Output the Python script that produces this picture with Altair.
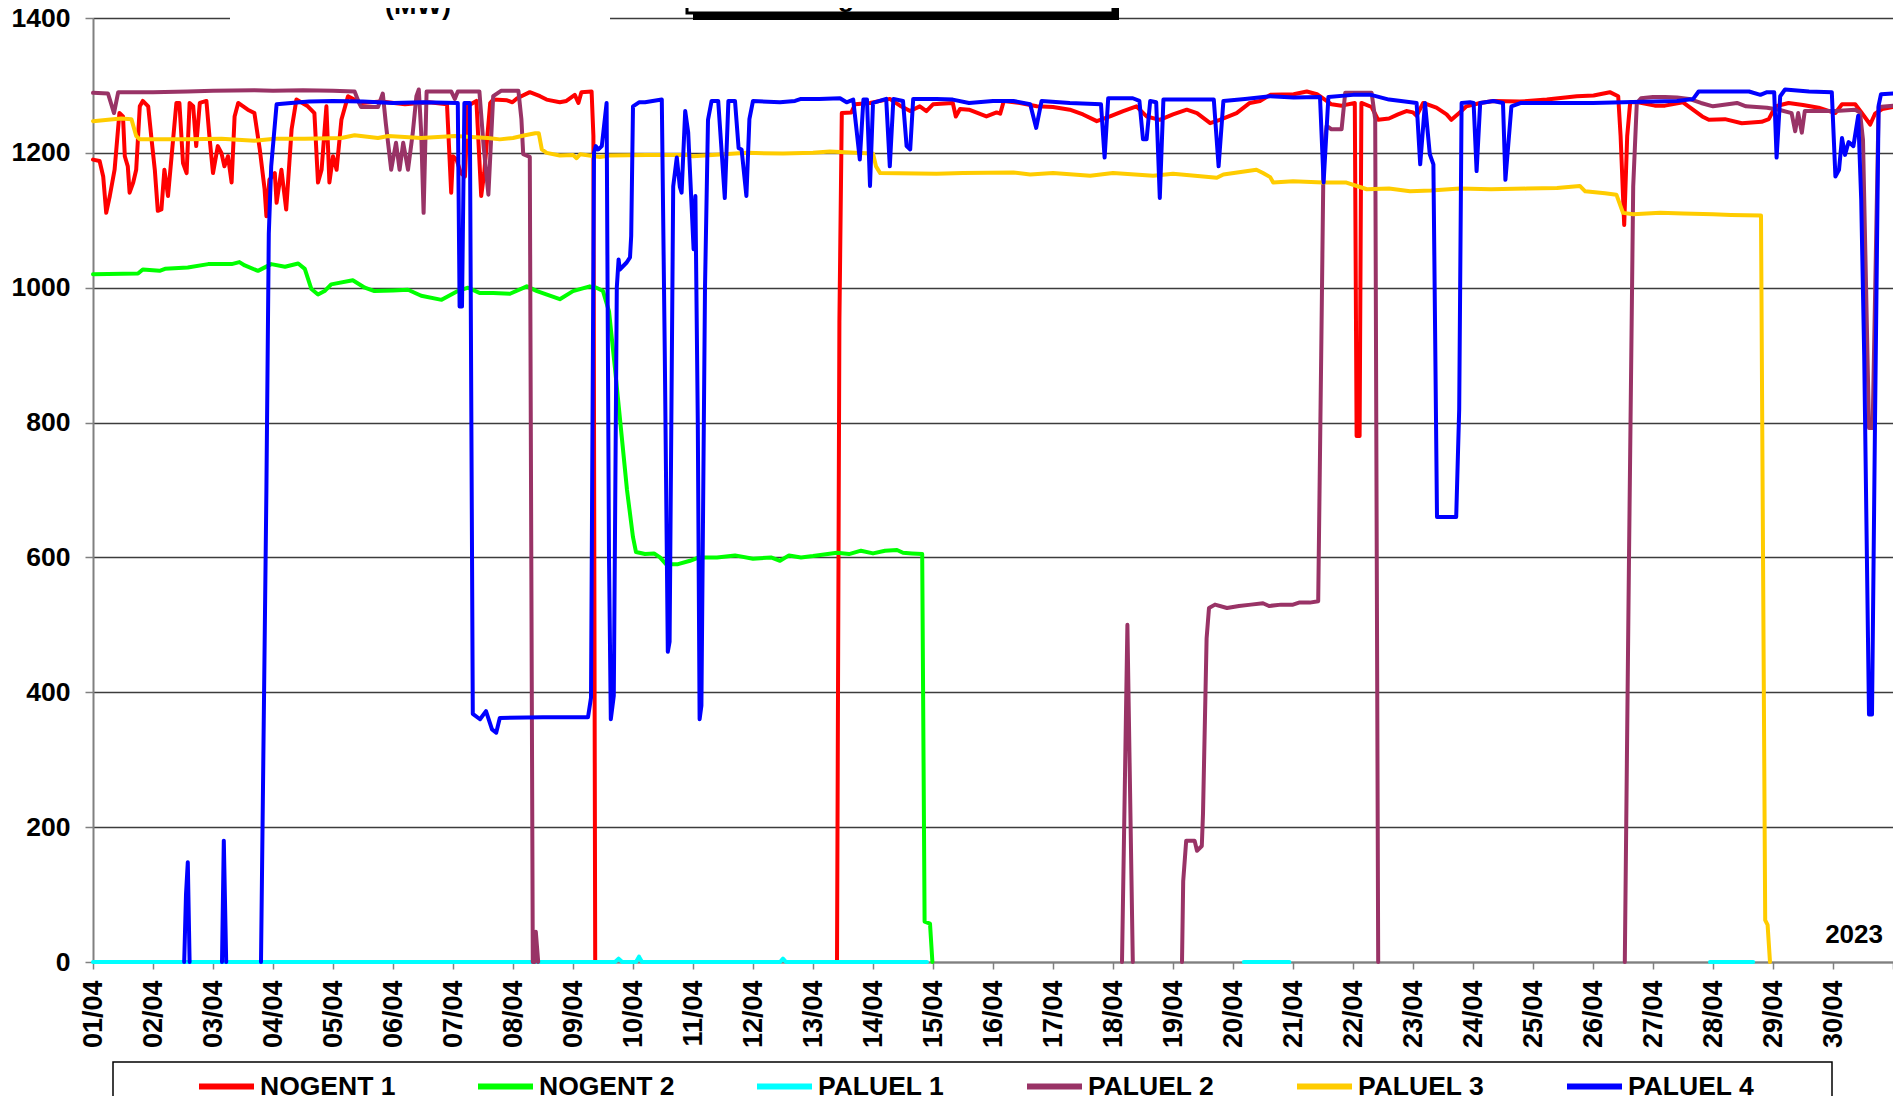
import json
import altair as alt
import pandas as pd

# ---------------- data ----------------
SERIES = ["NOGENT 1", "NOGENT 2", "PALUEL 1", "PALUEL 2", "PALUEL 3", "PALUEL 4"]
COLORS = ["#FF0000", "#00FF00", "#00FFFF", "#993366", "#FFCC00", "#0000FF"]
DAY_LABELS = ["%02d/04" % d for d in range(1, 31)]
Y_TICKS = [0, 200, 400, 600, 800, 1000, 1200, 1400]
YEAR = "2023"
TITLE = "Nogent - Paluel"
UNIT = "(MW)"

# each series: list of segments, each segment: (day offset from 01/04 00:00, MW)
NOGENT_1 = [
    [(0, 1190), (0.11, 1188), (0.17, 1165), (0.22, 1111), (0.28, 1136), (0.36, 1175), (0.44, 1259),
     (0.5, 1254), (0.53, 1195), (0.58, 1180), (0.61, 1141), (0.67, 1156), (0.72, 1175), (0.78, 1269),
     (0.83, 1277), (0.92, 1269), (0.97, 1225), (1.03, 1175), (1.08, 1114), (1.14, 1116), (1.19, 1175),
     (1.25, 1136), (1.31, 1195), (1.39, 1274), (1.44, 1274), (1.5, 1185), (1.56, 1170), (1.61, 1274),
     (1.67, 1269), (1.72, 1210), (1.78, 1274), (1.89, 1277), (1.94, 1225), (2.0, 1170), (2.08, 1210),
     (2.14, 1200), (2.19, 1180), (2.25, 1195), (2.31, 1156), (2.36, 1254), (2.42, 1274), (2.58, 1264),
     (2.69, 1259), (2.78, 1205), (2.86, 1146), (2.89, 1106), (2.94, 1160), (3.03, 1170), (3.06, 1126),
     (3.14, 1175), (3.22, 1116), (3.31, 1235), (3.39, 1279), (3.58, 1269), (3.69, 1259), (3.75, 1156),
     (3.81, 1175), (3.89, 1269), (3.94, 1156), (4.0, 1195), (4.06, 1175), (4.14, 1249), (4.25, 1284),
     (4.47, 1274), (4.8, 1276), (5.2, 1272), (5.6, 1275), (5.9, 1272), (5.97, 1141), (6.0, 1195),
     (6.06, 1190), (6.13, 1170), (6.2, 1165), (6.25, 1270), (6.39, 1277), (6.47, 1136), (6.52, 1170),
     (6.62, 1274), (6.67, 1279), (6.9, 1278), (6.99, 1275), (7.07, 1281), (7.28, 1290), (7.45, 1284),
     (7.56, 1279), (7.78, 1275), (7.89, 1277), (8.03, 1286), (8.09, 1274), (8.14, 1290), (8.31, 1291),
     (8.34, 1225), (8.37, 0)],
    [(12.40, 0), (12.44, 950), (12.48, 1259), (12.64, 1260), (12.7, 1272), (12.95, 1274), (13.28, 1280),
     (13.45, 1270), (13.62, 1262), (13.78, 1269), (13.89, 1262), (14.0, 1272), (14.33, 1274), (14.38, 1254),
     (14.45, 1265), (14.6, 1264), (14.89, 1254), (15.06, 1260), (15.12, 1258), (15.18, 1277), (15.45, 1274),
     (15.73, 1269), (16.0, 1268), (16.28, 1264), (16.5, 1257), (16.73, 1247), (16.95, 1254), (17.17, 1262),
     (17.39, 1269), (17.56, 1254), (17.78, 1249), (18.0, 1257), (18.23, 1264), (18.4, 1259), (18.62, 1244),
     (18.78, 1249), (19.06, 1259), (19.28, 1274), (19.45, 1277), (19.62, 1286), (20.01, 1287), (20.23, 1291),
     (20.4, 1287), (20.56, 1277), (20.64, 1272), (20.81, 1270), (21.03, 1274), (21.06, 780), (21.11, 780),
     (21.14, 1274), (21.31, 1268), (21.42, 1249), (21.6, 1251), (21.75, 1257), (21.89, 1262), (22.0, 1260),
     (22.06, 1255), (22.17, 1274), (22.39, 1267), (22.56, 1257), (22.64, 1249), (22.78, 1260), (22.89, 1269),
     (23.12, 1274), (23.34, 1277), (23.78, 1276), (24.23, 1279), (24.73, 1284), (25.01, 1285), (25.28, 1290),
     (25.42, 1284), (25.46, 1225), (25.52, 1093), (25.57, 1225), (25.62, 1275), (25.75, 1275), (26.03, 1270),
     (26.2, 1270), (26.5, 1275), (26.82, 1254), (26.93, 1249), (27.2, 1250), (27.48, 1244), (27.81, 1246),
     (27.93, 1250), (28.04, 1269), (28.26, 1274), (28.5, 1271), (28.76, 1267), (29.04, 1259), (29.15, 1272),
     (29.37, 1272), (29.48, 1259), (29.62, 1242), (29.7, 1258), (29.82, 1265), (30.0, 1268)],
]

NOGENT_2 = [
    [(0, 1020), (0.75, 1021), (0.83, 1027), (1.11, 1025), (1.2, 1028), (1.58, 1030), (1.92, 1035),
     (2.31, 1035), (2.44, 1038), (2.53, 1033), (2.75, 1025), (2.97, 1035), (3.2, 1031), (3.42, 1036),
     (3.53, 1028), (3.64, 998), (3.75, 990), (3.86, 995), (3.97, 1005), (4.33, 1011), (4.53, 1000),
     (4.69, 995), (5.0, 996), (5.25, 997), (5.47, 988), (5.81, 982), (6.08, 995), (6.25, 1000),
     (6.45, 992), (6.67, 992), (6.95, 991), (7.23, 1002), (7.4, 995), (7.78, 983), (8.0, 995),
     (8.28, 1002), (8.39, 1000), (8.5, 995), (8.6, 965), (8.7, 880), (8.8, 790), (8.9, 700),
     (9.0, 630), (9.05, 608), (9.2, 605), (9.35, 606), (9.45, 600), (9.55, 590), (9.75, 590),
     (9.95, 595), (10.1, 600), (10.4, 600), (10.7, 603), (11.0, 598), (11.3, 600), (11.45, 595),
     (11.6, 603), (11.8, 600), (12.0, 602), (12.4, 607), (12.6, 605), (12.8, 610), (13.0, 606),
     (13.2, 610), (13.4, 611), (13.5, 607), (13.65, 606), (13.82, 605), (13.86, 60), (13.95, 57),
     (13.99, 0)],
]

PALUEL_1 = [
    [(0, 0), (4.5, 0), (8.7, 0), (8.76, 5), (8.82, 0), (9.05, 0), (9.1, 8), (9.15, 0), (11.45, 0),
     (11.5, 5), (11.55, 0), (13.9, 0)],
    [(19.18, 0), (19.94, 0)],
    [(26.95, 0), (27.67, 0)],
]

PALUEL_2 = [
    [(0, 1289), (0.25, 1288), (0.35, 1259), (0.42, 1290), (1.0, 1290), (1.58, 1291), (2.0, 1292),
     (2.69, 1293), (3.0, 1292), (3.5, 1293), (4.0, 1292), (4.36, 1291), (4.43, 1275), (4.47, 1268),
     (4.75, 1268), (4.83, 1288), (4.88, 1244), (4.97, 1175), (5.05, 1215), (5.11, 1175), (5.17, 1215),
     (5.25, 1175), (5.33, 1230), (5.39, 1284), (5.43, 1294), (5.47, 1230), (5.51, 1111), (5.56, 1291),
     (5.97, 1291), (6.03, 1280), (6.08, 1291), (6.44, 1291), (6.51, 1210), (6.59, 1138), (6.67, 1284),
     (6.8, 1292), (7.09, 1292), (7.14, 1250), (7.17, 1198), (7.28, 1194), (7.33, 0), (7.36, 0),
     (7.38, 45), (7.42, 0)],
    [(17.15, 0), (17.24, 500), (17.33, 0)],
    [(18.15, 0), (18.17, 120), (18.22, 180), (18.36, 180), (18.4, 165), (18.48, 172), (18.5, 220),
     (18.56, 480), (18.6, 525), (18.7, 530), (18.9, 525), (19.1, 528), (19.3, 530), (19.5, 532),
     (19.6, 528), (19.8, 530), (20.0, 530), (20.1, 533), (20.28, 533), (20.42, 535), (20.47, 900),
     (20.51, 1200), (20.56, 1240), (20.64, 1235), (20.81, 1235), (20.87, 1289), (21.31, 1289),
     (21.37, 1250), (21.42, 0)],
    [(25.53, 0), (25.6, 600), (25.67, 1150), (25.73, 1274), (25.8, 1281), (26.0, 1283), (26.2, 1283),
     (26.4, 1282), (26.6, 1280), (26.8, 1274), (27.0, 1269), (27.4, 1274), (27.55, 1269), (27.9, 1267),
     (28.1, 1264), (28.31, 1259), (28.37, 1232), (28.42, 1259), (28.48, 1230), (28.53, 1262),
     (29.04, 1262), (29.37, 1264), (29.45, 1260), (29.5, 1219), (29.6, 792), (29.66, 792),
     (29.76, 1268), (30.0, 1270)],
]

PALUEL_3 = [
    [(0, 1247), (0.25, 1249), (0.47, 1251), (0.64, 1250), (0.72, 1225), (0.78, 1220), (1.58, 1220),
     (2.14, 1221), (2.69, 1218), (3.03, 1221), (3.53, 1221), (4.14, 1222), (4.36, 1226), (4.75, 1222),
     (4.92, 1225), (5.47, 1222), (6.03, 1225), (6.58, 1222), (6.78, 1220), (7.0, 1222), (7.2, 1226),
     (7.37, 1229), (7.43, 1229), (7.48, 1205), (7.56, 1200), (7.78, 1196), (8.0, 1197), (8.06, 1192),
     (8.12, 1198), (8.45, 1194), (8.6, 1196), (9.23, 1197), (9.9, 1197), (10.0, 1195), (10.9, 1200),
     (11.5, 1199), (12.0, 1200), (12.28, 1202), (12.7, 1200), (13.0, 1199), (13.05, 1180),
     (13.12, 1170), (14.06, 1169), (14.5, 1170), (15.34, 1171), (15.62, 1168), (16.0, 1170),
     (16.62, 1166), (17.0, 1170), (17.67, 1166), (18.0, 1169), (18.73, 1163), (18.84, 1168),
     (19.39, 1175), (19.5, 1170), (19.62, 1164), (19.67, 1156), (20.0, 1158), (20.5, 1156),
     (20.89, 1156), (21.23, 1146), (21.6, 1147), (21.95, 1143), (22.3, 1144), (22.78, 1147),
     (23.3, 1146), (23.9, 1147), (24.4, 1148), (24.78, 1151), (24.87, 1143), (25.2, 1140),
     (25.39, 1138), (25.5, 1111), (25.67, 1109), (26.12, 1111), (26.5, 1110), (27.0, 1109),
     (27.3, 1108), (27.8, 1107), (27.87, 62), (27.91, 55), (27.95, 0)],
]

PALUEL_4 = [
    [(1.52, 0), (1.55, 100), (1.58, 148), (1.61, 0)],
    [(2.15, 0), (2.18, 180), (2.22, 0)],
    [(2.80, 0), (2.89, 700), (2.93, 1080), (2.97, 1180), (3.06, 1272), (3.3, 1274), (3.6, 1276),
     (4.0, 1277), (4.5, 1276), (5.0, 1274), (5.5, 1275), (6.08, 1274), (6.11, 972), (6.15, 972),
     (6.19, 1274), (6.28, 1274), (6.33, 368), (6.45, 360), (6.55, 372), (6.65, 345), (6.72, 340),
     (6.78, 362), (7.5, 363), (8.25, 363), (8.3, 392), (8.35, 1200), (8.38, 1210), (8.42, 1205),
     (8.48, 1210), (8.56, 1274), (8.6, 600), (8.63, 360), (8.68, 395), (8.73, 1000), (8.76, 1042),
     (8.78, 1027), (8.89, 1037), (8.95, 1045), (8.97, 1077), (9.0, 1269), (9.1, 1275), (9.2, 1275),
     (9.48, 1279), (9.53, 900), (9.58, 460), (9.61, 475), (9.67, 1150), (9.73, 1193), (9.78, 1150),
     (9.81, 1141), (9.87, 1262), (9.92, 1230), (10.01, 1057), (10.04, 1136), (10.08, 800),
     (10.11, 360), (10.14, 380), (10.2, 1000), (10.25, 1249), (10.31, 1277), (10.42, 1277),
     (10.53, 1133), (10.59, 1277), (10.7, 1277), (10.76, 1207), (10.81, 1205), (10.89, 1136),
     (10.94, 1250), (11.0, 1277), (11.45, 1275), (11.7, 1277), (11.8, 1280), (12.1, 1280),
     (12.45, 1281), (12.56, 1275), (12.67, 1279), (12.78, 1190), (12.84, 1279), (12.9, 1279),
     (12.95, 1151), (13.0, 1274), (13.22, 1280), (13.28, 1180), (13.34, 1280), (13.5, 1277),
     (13.56, 1210), (13.62, 1205), (13.67, 1280), (14.06, 1280), (14.33, 1279), (14.6, 1274),
     (15.0, 1277), (15.34, 1277), (15.62, 1272), (15.72, 1237), (15.81, 1277), (16.28, 1274),
     (16.8, 1272), (16.86, 1193), (16.92, 1281), (17.33, 1281), (17.44, 1277), (17.5, 1220),
     (17.56, 1220), (17.62, 1277), (17.72, 1275), (17.78, 1133), (17.84, 1279), (18.3, 1279),
     (18.68, 1279), (18.76, 1180), (18.84, 1277), (19.2, 1280), (19.62, 1284), (20.01, 1282),
     (20.45, 1283), (20.51, 1156), (20.59, 1283), (21.0, 1286), (21.3, 1286), (21.6, 1279),
     (21.8, 1277), (22.06, 1274), (22.12, 1183), (22.2, 1274), (22.28, 1198), (22.34, 1183),
     (22.40, 660), (22.72, 660), (22.77, 820), (22.81, 1274), (22.95, 1275), (23.01, 1274),
     (23.06, 1173), (23.12, 1274), (23.34, 1277), (23.5, 1274), (23.54, 1160), (23.64, 1269),
     (23.8, 1274), (24.5, 1274), (25.0, 1274), (25.5, 1275), (26.0, 1276), (26.4, 1277),
     (26.67, 1280), (26.76, 1291), (27.2, 1291), (27.6, 1291), (27.79, 1286), (27.9, 1290),
     (28.02, 1290), (28.06, 1193), (28.12, 1284), (28.2, 1294), (28.6, 1291), (28.98, 1290),
     (29.04, 1165), (29.1, 1175), (29.15, 1222), (29.2, 1197), (29.26, 1216), (29.34, 1210),
     (29.42, 1255), (29.47, 1131), (29.52, 900), (29.6, 367), (29.65, 367), (29.7, 800),
     (29.76, 1270), (29.8, 1287), (30.0, 1288)],
]

SERIES_DATA = [NOGENT_1, NOGENT_2, PALUEL_1, PALUEL_2, PALUEL_3, PALUEL_4]

# ---------------- build the table ----------------
rows = []
for name, segs in zip(SERIES, SERIES_DATA):
    for si, seg in enumerate(segs):
        for pi, (d, v) in enumerate(seg):
            rows.append({"series": name, "seg": f"{name}-{si}", "i": pi, "day": d, "mw": v})
df = pd.DataFrame(rows)

FONT = "Liberation Sans"
W, H = 1800, 944

label_expr = json.dumps(DAY_LABELS) + "[datum.value] || ''"

lines = alt.Chart(df).mark_line(strokeWidth=4, strokeJoin="round", strokeCap="round").encode(
    x=alt.X("day:Q",
            scale=alt.Scale(domain=[0, 30], nice=False, zero=False),
            axis=alt.Axis(values=list(range(31)), labelExpr=label_expr, labelAngle=270,
                          labelFont=FONT, labelFontSize=27, labelFontWeight="bold",
                          labelColor="black", labelPadding=11, labelOverlap=False,
                          tickColor="#808080", tickSize=7, tickWidth=1.5,
                          domainColor="#808080", domainWidth=2, grid=False, title=None)),
    y=alt.Y("mw:Q",
            scale=alt.Scale(domain=[0, 1400], nice=False),
            axis=alt.Axis(values=Y_TICKS, format="d", labelFont=FONT, labelFontSize=26.5,
                          labelFontWeight="bold", labelColor="black", labelPadding=15,
                          tickColor="#808080", tickSize=8, tickWidth=1.5,
                          domainColor="#808080", domainWidth=2,
                          grid=True, gridColor="#3c3c3c", gridWidth=1.5, title=None)),
    color=alt.Color("series:N",
                    scale=alt.Scale(domain=SERIES, range=COLORS),
                    legend=alt.Legend(orient="none", legendX=103, legendY=1038,
                                      direction="horizontal", columns=6, title=None,
                                      symbolType="stroke", symbolSize=3025, symbolStrokeWidth=6,
                                      labelFont=FONT, labelFontSize=26.5, labelFontWeight="bold",
                                      labelColor="black", labelOffset=3, labelLimit=400,
                                      columnPadding=70, padding=0)),
    detail="seg:N",
    order="i:Q",
)

one = pd.DataFrame({"k": [0]})

legend_box = alt.Chart(one).mark_rect(fill="white", stroke="black", strokeWidth=1.5).encode(
    x=alt.value(20), x2=alt.value(1739), y=alt.value(1044), y2=alt.value(1079))

unit_bg = alt.Chart(one).mark_rect(fill="white").encode(
    x=alt.value(137), x2=alt.value(517), y=alt.value(-12), y2=alt.value(2))
unit_txt = alt.Chart(pd.DataFrame({"t": [UNIT]})).mark_text(
    font=FONT, fontSize=27, fontWeight="bold", color="black", align="center", baseline="alphabetic"
).encode(text="t:N", x=alt.value(325), y=alt.value(-4))

title_shadow = alt.Chart(one).mark_rect(fill="black").encode(
    x=alt.value(600), x2=alt.value(1026), y=alt.value(-34), y2=alt.value(2))
title_box = alt.Chart(one).mark_rect(fill="white", stroke="black", strokeWidth=3).encode(
    x=alt.value(594), x2=alt.value(1020), y=alt.value(-40), y2=alt.value(-5))
title_txt = alt.Chart(pd.DataFrame({"t": [TITLE]})).mark_text(
    font=FONT, fontSize=27, fontWeight="bold", color="black", align="center", baseline="alphabetic"
).encode(text="t:N", x=alt.value(807), y=alt.value(-12))

year_txt = alt.Chart(pd.DataFrame({"t": [YEAR]})).mark_text(
    font=FONT, fontSize=26, fontWeight="bold", color="black", align="right", baseline="middle"
).encode(text="t:N", x=alt.value(1790), y=alt.value(917))

chart = alt.layer(
    lines, legend_box, unit_bg, unit_txt, title_shadow, title_box, title_txt, year_txt
).properties(
    width=W, height=H,
    autosize=alt.AutoSizeParams(type="none"),
    padding={"left": 85, "top": 10, "right": 0, "bottom": 134},
).configure_view(stroke=None).configure(background="white")

chart.save("out.html", embed_options={"renderer": "svg", "actions": False})
